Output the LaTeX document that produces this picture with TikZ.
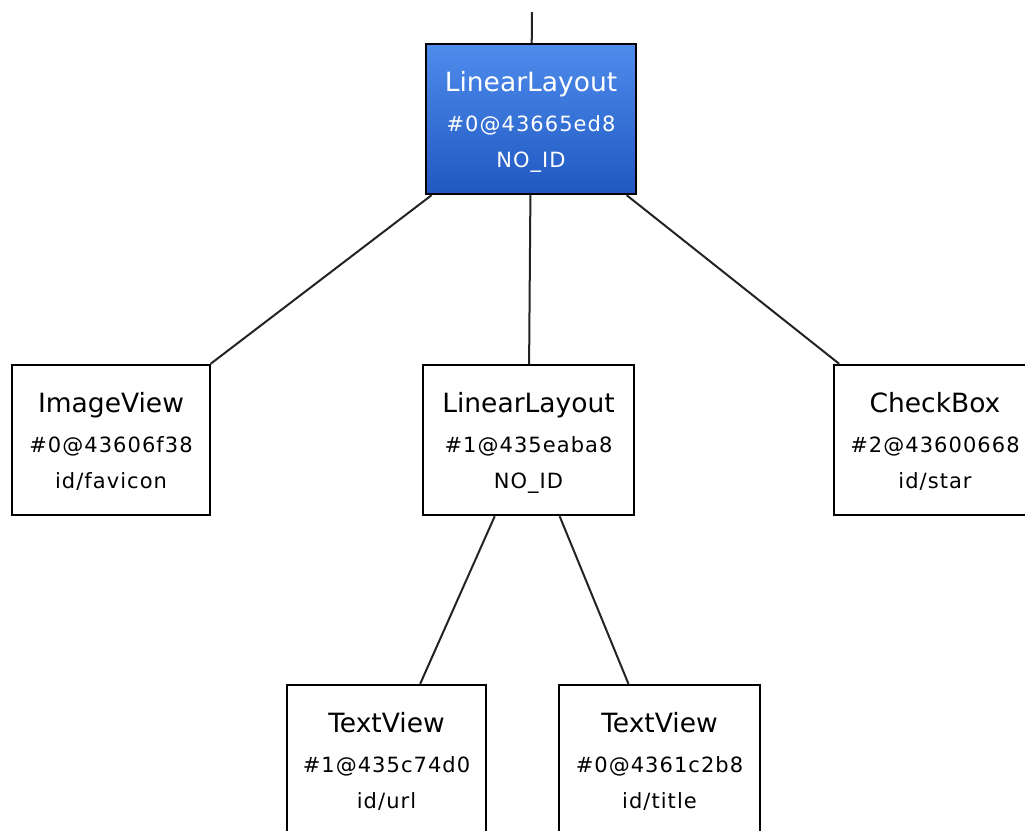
\documentclass[tikz,border=0pt]{standalone}
\usepackage{fontspec}
\setmainfont{DejaVu Sans}
\newfontfamily\infofont[LetterSpace=5]{DejaVu Sans}
\definecolor{hitop}{RGB}{78,140,236}
\definecolor{hibot}{RGB}{32,88,194}
\definecolor{wire}{RGB}{35,35,35}

\tikzset{
  viewbox/.style={draw=black, line width=2.4pt, fill=white, inner sep=0pt,
    minimum height=150, rectangle},
  selbox/.style={viewbox, top color=hitop, bottom color=hibot},
  titletext/.style={anchor=base, inner sep=0pt, font=\fontsize{26.5}{30}\selectfont},
  infotext/.style={anchor=base, inner sep=0pt, font=\infofont\fontsize{21}{25}\selectfont},
  link/.style={draw=wire, line width=2pt},
}

% \treenode{style}{name}{position}{width}{title}{line 2}{line 3}{text colour}
\newcommand\treenode[8]{%
  \node[#1, minimum width=#4] (#2) at (#3) {};
  \node[titletext, text=#8, yshift=28] (#2-a) at (#2.center) {#5};
  \node[infotext, text=#8, yshift=-12] (#2-b) at (#2.center) {#6};
  \node[infotext, text=#8, yshift=-48] (#2-c) at (#2.center) {#7};
}

\begin{document}
\begin{tikzpicture}[x=1pt, y=-1pt]
  \useasboundingbox (0,0) rectangle (1025,830);
  \clip (0,0) rectangle (1025,830);

  \coordinate (topend) at (532,12);

  \path (531,119) coordinate (p-root)
        (111,440) coordinate (p-img)
        (528.5,440) coordinate (p-mid)
        (935,440) coordinate (p-chk)
        (386.5,760) coordinate (p-url)
        (659.5,760) coordinate (p-title);

  \treenode{selbox}{root}{p-root}{210}{LinearLayout}{\#0@43665ed8}{NO\_ID}{white}
  \treenode{viewbox}{img}{p-img}{198}{ImageView}{\#0@43606f38}{id/favicon}{black}
  \treenode{viewbox}{mid}{p-mid}{211}{LinearLayout}{\#1@435eaba8}{NO\_ID}{black}
  \treenode{viewbox}{chk}{p-chk}{202}{CheckBox}{\#2@43600668}{id/star}{black}
  \treenode{viewbox}{url}{p-url}{199}{TextView}{\#1@435c74d0}{id/url}{black}
  \treenode{viewbox}{ttl}{p-title}{201}{TextView}{\#0@4361c2b8}{id/title}{black}

  \draw[link] (topend) -- (root);
  \draw[link] (root) -- (img);
  \draw[link] (root) -- (mid);
  \draw[link] (root) -- (chk);
  \draw[link] (mid) -- (url);
  \draw[link] (mid) -- (ttl);
\end{tikzpicture}
\end{document}
